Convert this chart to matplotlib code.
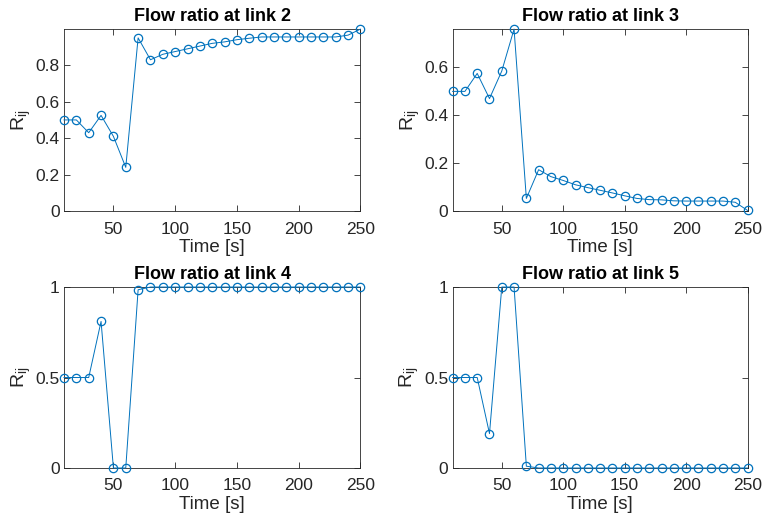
import matplotlib
matplotlib.use("Agg")
import matplotlib.pyplot as plt
import numpy as np

# time stamps (s)
t = np.arange(10, 251, 10)

# flow ratios
r_link2 = [0.50, 0.50, 0.43, 0.525, 0.41, 0.24, 0.95, 0.83, 0.86, 0.875, 0.89,
           0.905, 0.92, 0.928, 0.94, 0.948, 0.955, 0.955, 0.955, 0.955, 0.955,
           0.955, 0.955, 0.965, 0.998]
r_link3 = [0.50, 0.50, 0.575, 0.47, 0.585, 0.76, 0.053, 0.173, 0.144, 0.128,
           0.110, 0.098, 0.087, 0.076, 0.064, 0.053, 0.048, 0.047, 0.043, 0.042,
           0.042, 0.042, 0.042, 0.037, 0.003]
r_link4 = [0.50, 0.50, 0.50, 0.81, 0.0, 0.0, 0.985, 1, 1, 1, 1, 1, 1, 1, 1, 1,
           1, 1, 1, 1, 1, 1, 1, 1, 1]
r_link5 = [0.50, 0.50, 0.50, 0.19, 1.0, 1.0, 0.01, 0, 0, 0, 0, 0, 0, 0, 0, 0,
           0, 0, 0, 0, 0, 0, 0, 0, 0]

titles = ["Flow ratio at link 2", "Flow ratio at link 3",
          "Flow ratio at link 4", "Flow ratio at link 5"]
series = [r_link2, r_link3, r_link4, r_link5]
yticks = [[0, 0.2, 0.4, 0.6, 0.8], [0, 0.2, 0.4, 0.6], [0, 0.5, 1], [0, 0.5, 1]]
ytlabels = [["0", "0.2", "0.4", "0.6", "0.8"], ["0", "0.2", "0.4", "0.6"],
            ["0", "0.5", "1"], ["0", "0.5", "1"]]

plt.rcParams['font.family'] = ['Liberation Sans', 'DejaVu Sans']
plt.rcParams['mathtext.fontset'] = 'custom'
plt.rcParams['mathtext.rm'] = 'Liberation Sans'
plt.rcParams['mathtext.it'] = 'Liberation Sans'

fig = plt.figure(figsize=(7.62, 5.2), dpi=100)
# [left, bottom, width, height]
boxes = [[0.084, 0.594, 0.389, 0.350],
         [0.594, 0.594, 0.387, 0.350],
         [0.084, 0.100, 0.389, 0.348],
         [0.594, 0.100, 0.387, 0.348]]

dark = '#262626'
for box, title, vals, yt, ytl in zip(boxes, titles, series, yticks, ytlabels):
    ax = fig.add_axes(box)
    ax.plot(t, vals, color='#0072BD', lw=0.7, marker='o', ms=6,
            mfc='none', mec='#0072BD', mew=0.9, clip_on=False, zorder=3)
    ax.set_xlim(10, 250)
    ax.set_ylim(0, max(vals) if max(vals) < 1 else 1)
    ax.set_xticks([50, 100, 150, 200, 250])
    ax.set_yticks(yt)
    ax.set_yticklabels(ytl)
    ax.tick_params(direction='in', top=True, right=True, length=4,
                   width=0.6, colors=dark, labelsize=12.5)
    ax.tick_params(axis='x', pad=7.5)
    ax.tick_params(axis='y', pad=3)
    for s in ax.spines.values():
        s.set_color(dark)
        s.set_linewidth(0.6)
    ax.set_title(title, fontsize=13, fontweight='bold', color='black', pad=6)
    ax.set_xlabel('Time [s]', fontsize=13.5, color=dark, labelpad=2)
    ax.set_ylabel(r'R$_{\mathregular{ij}}$', fontsize=14, color=dark, labelpad=2)

fig.savefig('out.png', dpi=100)
